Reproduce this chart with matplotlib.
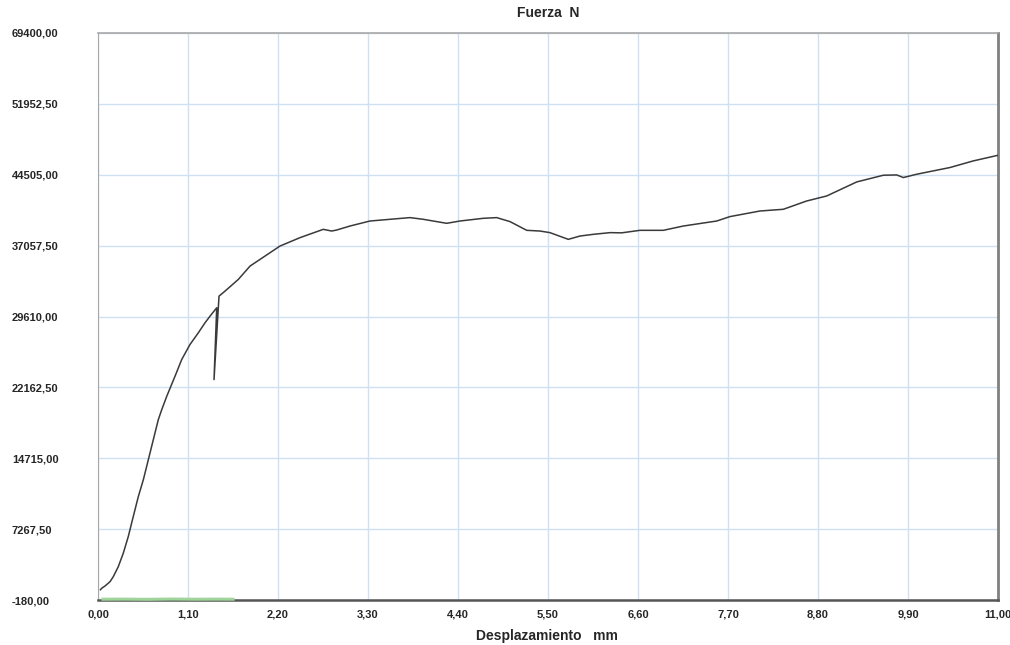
import matplotlib.pyplot as plt
import numpy as np

# Load-displacement readings: Desplazamiento (mm) vs Fuerza (N)
desplazamiento = [0.03, 0.045, 0.086, 0.147, 0.187, 0.248, 0.309, 0.370, 0.431,
                  0.493, 0.554, 0.615, 0.676, 0.737, 0.779, 0.840, 0.941, 1.023,
                  1.124, 1.226, 1.308, 1.369, 1.451, 1.418, 1.479, 1.552, 1.715,
                  1.858, 2.224, 2.469, 2.754, 2.856, 2.917, 3.080, 3.324, 3.569,
                  3.813, 3.976, 4.140, 4.262, 4.424, 4.709, 4.873, 5.036, 5.240,
                  5.402, 5.524, 5.748, 5.891, 6.054, 6.258, 6.400, 6.624, 6.909,
                  7.154, 7.562, 7.724, 8.091, 8.376, 8.662, 8.906, 9.273, 9.598,
                  9.762, 9.843, 10.007, 10.413, 10.698, 11.0]
fuerza = [900, 1052, 1294, 1746, 2273, 3325, 4736, 6484, 8589,
          10694, 12452, 14558, 16663, 18769, 19821, 21221, 23327, 25085,
          26664, 27895, 28948, 29643, 30527, 22979, 31748, 32275, 33506,
          34907, 37012, 37896, 38770, 38591, 38696, 39117, 39644, 39823,
          40001, 39823, 39580, 39402, 39644, 39928, 40001, 39580, 38665,
          38591, 38422, 37717, 38065, 38244, 38422, 38400, 38665, 38665,
          39117, 39644, 40107, 40696, 40875, 41749, 42275, 43749, 44454,
          44486, 44212, 44560, 45265, 45960, 46550]

# Second channel, sitting near zero at the start of the test
desplaz_2 = [0.06, 0.30, 0.60, 0.90, 1.20, 1.45, 1.65]
fuerza_2 = [-100, -90, -110, -80, -100, -90, -100]

x_ticks = [0.0, 1.1, 2.2, 3.3, 4.4, 5.5, 6.6, 7.7, 8.8, 9.9, 11.0]
x_labels = ["0,00", "1,10", "2,20", "3,30", "4,40", "5,50", "6,60",
            "7,70", "8,80", "9,90", "11,00"]
y_ticks = [-180.0, 7267.5, 14715.0, 22162.5, 29610.0, 37057.5, 44505.0,
           51952.5, 59400.0]
y_labels = ["-180,00", "7267,50", "14715,00", "22162,50", "29610,00",
            "37057,50", "44505,00", "51952,50", "69400,00"]

plt.rcParams['font.family'] = 'Liberation Sans'
TEXT_COLOR = '#262626'
GRID_COLOR = '#cfe0f3'

fig = plt.figure(figsize=(10.1, 6.45), dpi=100)
ax = fig.add_axes([98/1010, 45/645, 900/1010, 567/645])

ax.plot(desplazamiento, fuerza, color='#3a3a3a', lw=1.1, zorder=3)
ax.plot(desplaz_2, fuerza_2, color='#9fd49a', lw=2.2, zorder=4, clip_on=False)

ax.set_xlim(0, 11.0)
ax.set_ylim(-180, 59400)
ax.set_xticks(x_ticks)
ax.set_xticklabels(x_labels)
ax.set_yticks(y_ticks)
ax.set_yticklabels(y_labels)

ax.grid(True, color=GRID_COLOR, lw=1.0)
ax.set_axisbelow(True)
ax.tick_params(axis='both', length=0, labelsize=8, labelcolor=TEXT_COLOR)
ax.tick_params(axis='x', pad=7)
ax.tick_params(axis='y', pad=62)
for lab in ax.get_yticklabels():
    lab.set_horizontalalignment('left')
for lab in ax.get_xticklabels() + ax.get_yticklabels():
    lab.set_fontweight('bold')

ax.spines['left'].set_color('#a8a8a8')
ax.spines['top'].set_color('#a8a8a8')
ax.spines['top'].set_linewidth(1.2)
ax.spines['right'].set_color('#808080')
ax.spines['right'].set_linewidth(2.0)
ax.spines['bottom'].set_color('#555555')
ax.spines['bottom'].set_linewidth(1.8)

fig.text(548/1010, 1 - 13/645, "Fuerza  N", ha='center', va='center',
         fontsize=10, fontweight='bold', color=TEXT_COLOR)
fig.text(547/1010, 1 - 636/645, "Desplazamiento   mm", ha='center', va='center',
         fontsize=10, fontweight='bold', color=TEXT_COLOR)

fig.savefig("out.png", dpi=100, facecolor='white')
